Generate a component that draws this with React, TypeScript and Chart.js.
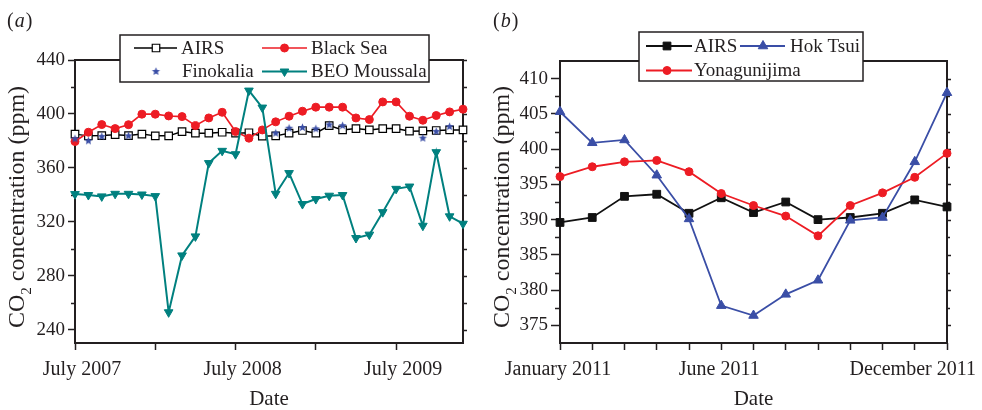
import React, { useEffect, useRef } from 'react';
import { Chart, registerables } from 'chart.js';
import { drawPoint } from 'chart.js/helpers';

Chart.register(...registerables);

const SERIF = '"Liberation Serif", "Times New Roman", Times, serif';
const INK = '#231f20';
const RED = '#ed1c24';
const BLUE = '#3a4ea6';
const TEAL = '#00807f';

// ---------------- Panel (a) ----------------
const monthsA = [
  'Jul 2007', 'Aug 2007', 'Sep 2007', 'Oct 2007', 'Nov 2007', 'Dec 2007',
  'Jan 2008', 'Feb 2008', 'Mar 2008', 'Apr 2008', 'May 2008', 'Jun 2008',
  'Jul 2008', 'Aug 2008', 'Sep 2008', 'Oct 2008', 'Nov 2008', 'Dec 2008',
  'Jan 2009', 'Feb 2009', 'Mar 2009', 'Apr 2009', 'May 2009', 'Jun 2009',
  'Jul 2009', 'Aug 2009', 'Sep 2009', 'Oct 2009', 'Nov 2009', 'Dec 2009',
];
const airsA = [
  385.0, 383.7, 383.9, 384.6, 383.9, 385.0, 383.7, 383.7, 386.9, 385.7,
  385.7, 386.4, 385.7, 386.0, 383.5, 383.7, 385.7, 387.7, 385.7, 391.3,
  388.1, 389.1, 388.1, 389.1, 389.1, 387.2, 387.4, 387.7, 388.1, 388.1,
];
const blackSeaA = [
  379.5, 386.4, 392.1, 389.1, 392.0, 399.8, 399.8, 398.5, 398.0, 391.3,
  397.0, 401.2, 386.9, 382.0, 388.1, 394.1, 398.3, 402.0, 405.0, 405.0,
  405.0, 397.0, 395.8, 408.9, 408.9, 398.3, 395.3, 398.8, 401.5, 403.5,
];
const finokaliaA = [
  381.5, 380.0, 383.2, null, 383.7, null, null, null, null, null,
  null, null, null, null, null, 385.7, 389.4, 389.9, 388.9, 391.9,
  391.3, null, null, null, null, null, 382.0, 386.9, 390.6, null,
];
const moussalaA = [
  340.5, 339.8, 338.8, 340.7, 340.7, 340.2, 339.0, 252.8, 295.0, 309.1,
  363.5, 372.6, 370.1, 417.3, 404.7, 340.7, 356.1, 333.1, 336.8, 339.3,
  339.8, 307.9, 310.4, 327.1, 344.4, 346.1, 317.0, 371.6, 324.0, 318.5,
];
const xTickMonthsA = ['Jul 2007', 'Jan 2008', 'Jul 2008', 'Jan 2009', 'Jul 2009'];
const xTickLabelsA = ['July 2007', '', 'July 2008', '', 'July 2009'];
const yMajorA = [240, 280, 320, 360, 400, 440];
const yMinorA = [260, 300, 340, 380, 420];

// ---------------- Panel (b) ----------------
const monthsB = [
  'Jan 2011', 'Feb 2011', 'Mar 2011', 'Apr 2011', 'May 2011', 'Jun 2011', 'Jul 2011',
  'Aug 2011', 'Sep 2011', 'Oct 2011', 'Nov 2011', 'Dec 2011', 'Jan 2012',
];
const airsB = [389.6, 390.3, 393.3, 393.6, 390.9, 393.1, 391.0, 392.5, 390.0, 390.3, 390.9, 392.8, 391.8];
const hokTsuiB = [405.3, 400.9, 401.3, 396.3, 390.1, 377.8, 376.4, 379.4, 381.4, 389.9, 390.3, 398.2, 408.0];
const yonaguniB = [396.1, 397.5, 398.2, 398.4, 396.8, 393.7, 392.0, 390.5, 387.7, 392.0, 393.8, 396.0, 399.4];
const xTickMonthsB = monthsB.slice();
const xTickLabelsB = ['January 2011', '', '', '', '', 'June 2011', '', '', '', '', '', 'December 2011', ''];
const yMajorB = [375, 380, 385, 390, 395, 400, 405, 410];
const yMinorB = [377.5, 382.5, 387.5, 392.5, 397.5, 402.5, 407.5];

function toXY(values: (number | null)[]) {
  return values
    .map((v, i) => (v == null ? null : { x: i, y: v }))
    .filter((p) => p !== null) as { x: number; y: number }[];
}

function makeStar(color: string, r: number) {
  const size = Math.ceil(r * 2 + 2);
  const c = document.createElement('canvas');
  c.width = size;
  c.height = size;
  const g = c.getContext('2d')!;
  g.fillStyle = color;
  g.beginPath();
  for (let i = 0; i < 10; i++) {
    const ang = -Math.PI / 2 + (i * Math.PI) / 5;
    const rr = i % 2 === 0 ? r : r * 0.45;
    g.lineTo(size / 2 + rr * Math.cos(ang), size / 2 + rr * Math.sin(ang));
  }
  g.closePath();
  g.fill();
  return c;
}

type LegendItem = { ds: number; line?: [number, number]; mx: number; y: number; tx: number };
type DecorOpts = {
  letter: string;
  letterX: number;
  titleX: number;
  titleY: number;
  box: { x: number; y: number; w: number; h: number };
  items: LegendItem[];
  yMajor: number[];
  yMinor: number[];
  leftMinorLen: number;
  rightMajorLen: number;
  rightMinorLen: number;
};

function makeDecor(o: DecorOpts) {
  return {
    id: 'decor',
    beforeDatasetsDraw(chart: any) {
      const { ctx, chartArea: a, scales } = chart;
      const y = scales.y;
      ctx.save();
      ctx.strokeStyle = INK;
      ctx.lineWidth = 2;
      ctx.strokeRect(a.left, a.top, a.right - a.left, a.bottom - a.top);
      ctx.lineWidth = 1.5;
      ctx.beginPath();
      for (const v of o.yMinor) {
        const p = Math.round(y.getPixelForValue(v)) + 0.5;
        ctx.moveTo(a.left - o.leftMinorLen, p);
        ctx.lineTo(a.left, p);
        ctx.moveTo(a.right, p);
        ctx.lineTo(a.right + o.rightMinorLen, p);
      }
      for (const v of o.yMajor) {
        const p = Math.round(y.getPixelForValue(v)) + 0.5;
        ctx.moveTo(a.right, p);
        ctx.lineTo(a.right + o.rightMajorLen, p);
      }
      ctx.stroke();
      ctx.restore();
    },
    afterDraw(chart: any) {
      const { ctx } = chart;
      ctx.save();
      // panel letter
      ctx.fillStyle = INK;
      ctx.textBaseline = 'alphabetic';
      ctx.textAlign = 'left';
      let lx = o.letterX;
      ctx.font = `20px ${SERIF}`;
      ctx.fillText('(', lx, 27);
      lx += ctx.measureText('(').width + 1;
      ctx.font = `italic 20px ${SERIF}`;
      ctx.fillText(o.letter, lx, 27);
      lx += ctx.measureText(o.letter).width + 1;
      ctx.font = `20px ${SERIF}`;
      ctx.fillText(')', lx, 27);

      // y-axis title with subscript
      const main1 = 'CO';
      const sub = '2';
      const main2 = ' concentration (ppm)';
      ctx.font = `24px ${SERIF}`;
      const w1 = ctx.measureText(main1).width;
      const w3 = ctx.measureText(main2).width;
      ctx.font = `15px ${SERIF}`;
      const w2 = ctx.measureText(sub).width;
      const total = w1 + w2 + w3;
      ctx.translate(o.titleX, o.titleY);
      ctx.rotate(-Math.PI / 2);
      let tx = -total / 2;
      ctx.font = `24px ${SERIF}`;
      ctx.fillText(main1, tx, 0);
      tx += w1;
      ctx.font = `15px ${SERIF}`;
      ctx.fillText(sub, tx, 7);
      tx += w2;
      ctx.font = `24px ${SERIF}`;
      ctx.fillText(main2, tx, 0);
      ctx.restore();

      // legend
      ctx.save();
      const b = o.box;
      ctx.fillStyle = '#ffffff';
      ctx.fillRect(b.x, b.y, b.w, b.h);
      ctx.strokeStyle = INK;
      ctx.lineWidth = 1.5;
      ctx.strokeRect(b.x, b.y, b.w, b.h);
      for (const it of o.items) {
        const ds = chart.data.datasets[it.ds];
        if (it.line) {
          ctx.strokeStyle = ds.borderColor;
          ctx.lineWidth = ds.borderWidth;
          ctx.beginPath();
          ctx.moveTo(it.line[0], it.y);
          ctx.lineTo(it.line[1], it.y);
          ctx.stroke();
        }
        ctx.fillStyle = ds.pointBackgroundColor;
        ctx.strokeStyle = ds.pointBorderColor;
        ctx.lineWidth = ds.pointBorderWidth;
        drawPoint(
          ctx,
          {
            pointStyle: ds.pointStyle,
            rotation: ds.pointRotation || 0,
            radius: ds.pointRadius,
            borderWidth: ds.pointBorderWidth,
          } as any,
          it.mx,
          it.y
        );
        ctx.fillStyle = INK;
        ctx.font = `19px ${SERIF}`;
        ctx.textBaseline = 'middle';
        ctx.textAlign = 'left';
        ctx.fillText(ds.label, it.tx, it.y + 1);
      }
      ctx.restore();
    },
  };
}

function xScale(months: string[], tickMonths: string[], tickLabels: string[], height: number, labelOffset: number) {
  return {
    type: 'linear',
    min: 0,
    max: months.length - 1,
    afterBuildTicks: (s: any) => {
      s.ticks = tickMonths.map((m) => ({ value: months.indexOf(m) }));
    },
    afterFit: (s: any) => {
      s.height = height;
    },
    border: { display: false },
    grid: { drawOnChartArea: false, drawTicks: true, tickLength: 7, tickWidth: 1.5, tickColor: INK },
    ticks: {
      autoSkip: false,
      maxRotation: 0,
      minRotation: 0,
      padding: 8,
      labelOffset,
      color: INK,
      font: { family: SERIF, size: 20 },
      callback: (v: number) => {
        const idx = tickMonths.indexOf(months[Math.round(v)]);
        return idx >= 0 ? tickLabels[idx] : '';
      },
    },
    title: {
      display: true,
      text: 'Date',
      color: INK,
      font: { family: SERIF, size: 21 },
      padding: { top: 0, bottom: -2 },
    },
  };
}

function yScale(min: number, max: number, majors: number[], width: number, tickLen: number) {
  return {
    type: 'linear',
    min,
    max,
    afterBuildTicks: (s: any) => {
      s.ticks = majors.map((v) => ({ value: v }));
    },
    afterFit: (s: any) => {
      s.width = width;
    },
    border: { display: false },
    grid: { drawOnChartArea: false, drawTicks: true, tickLength: tickLen, tickWidth: 1.5, tickColor: INK },
    ticks: {
      padding: 3,
      color: INK,
      font: { family: SERIF, size: 19 },
      callback: (v: number) => String(v),
    },
  };
}

function configA() {
  const star = makeStar(BLUE, 4.3);
  return {
    type: 'line',
    data: {
      datasets: [
        {
          label: 'AIRS',
          data: toXY(airsA),
          borderColor: '#000000',
          borderWidth: 1.5,
          pointStyle: 'rect',
          pointRadius: 5.3,
          pointBackgroundColor: '#ffffff',
          pointBorderColor: '#000000',
          pointBorderWidth: 1.2,
          order: 4,
          clip: false,
        },
        {
          label: 'Black Sea',
          data: toXY(blackSeaA),
          borderColor: RED,
          borderWidth: 1.6,
          pointStyle: 'circle',
          pointRadius: 4,
          pointBackgroundColor: RED,
          pointBorderColor: RED,
          pointBorderWidth: 1,
          order: 3,
          clip: false,
        },
        {
          label: 'Finokalia',
          data: toXY(finokaliaA),
          showLine: false,
          borderColor: BLUE,
          borderWidth: 0,
          pointStyle: star,
          pointRadius: 4.3,
          pointBackgroundColor: BLUE,
          pointBorderColor: BLUE,
          pointBorderWidth: 0,
          order: 2,
          clip: false,
        },
        {
          label: 'BEO Moussala',
          data: toXY(moussalaA),
          borderColor: TEAL,
          borderWidth: 2,
          pointStyle: 'triangle',
          pointRotation: 180,
          pointRadius: 5,
          pointBackgroundColor: TEAL,
          pointBorderColor: TEAL,
          pointBorderWidth: 1,
          order: 1,
          clip: false,
        },
      ],
    },
    options: {
      responsive: false,
      animation: false,
      events: [],
      layout: { padding: { top: 60, right: 28, left: 0, bottom: 0 } },
      elements: { line: { tension: 0 } },
      plugins: { legend: { display: false }, tooltip: { enabled: false } },
      scales: {
        x: xScale(monthsA, xTickMonthsA, xTickLabelsA, 67, 7),
        y: yScale(230, 440, yMajorA, 75, 7),
      },
    },
    plugins: [
      makeDecor({
        letter: 'a',
        letterX: 7,
        titleX: 23.5,
        titleY: 207,
        box: { x: 120, y: 35, w: 309, h: 47 },
        items: [
          { ds: 0, line: [134, 177], mx: 156, y: 48, tx: 181 },
          { ds: 1, line: [262, 307], mx: 284.5, y: 48, tx: 311 },
          { ds: 2, mx: 156, y: 71.5, tx: 182 },
          { ds: 3, line: [262, 307], mx: 284.5, y: 71.5, tx: 311 },
        ],
        yMajor: yMajorA,
        yMinor: yMinorA,
        leftMinorLen: 4,
        rightMajorLen: 4,
        rightMinorLen: 4,
      }),
    ],
  };
}

function configB() {
  return {
    type: 'line',
    data: {
      datasets: [
        {
          label: 'AIRS',
          data: toXY(airsB),
          borderColor: '#111111',
          borderWidth: 1.8,
          pointStyle: 'rect',
          pointRadius: 5.5,
          pointBackgroundColor: '#111111',
          pointBorderColor: '#111111',
          pointBorderWidth: 1,
          order: 3,
          clip: false,
        },
        {
          label: 'Hok Tsui',
          data: toXY(hokTsuiB),
          borderColor: BLUE,
          borderWidth: 1.8,
          pointStyle: 'triangle',
          pointRadius: 5.5,
          pointBackgroundColor: BLUE,
          pointBorderColor: BLUE,
          pointBorderWidth: 1,
          order: 2,
          clip: false,
        },
        {
          label: 'Yonagunijima',
          data: toXY(yonaguniB),
          borderColor: RED,
          borderWidth: 1.8,
          pointStyle: 'circle',
          pointRadius: 4,
          pointBackgroundColor: RED,
          pointBorderColor: RED,
          pointBorderWidth: 1,
          order: 1,
          clip: false,
        },
      ],
    },
    options: {
      responsive: false,
      animation: false,
      events: [],
      layout: { padding: { top: 61, right: 35, left: 0, bottom: 0 } },
      elements: { line: { tension: 0 } },
      plugins: { legend: { display: false }, tooltip: { enabled: false } },
      scales: {
        x: xScale(monthsB, xTickMonthsB, xTickLabelsB, 67, -2),
        y: yScale(372.5, 412.5, yMajorB, 69, 9),
      },
    },
    plugins: [
      makeDecor({
        letter: 'b',
        letterX: 2,
        titleX: 17.5,
        titleY: 207,
        box: { x: 148, y: 32, w: 224, h: 49 },
        items: [
          { ds: 0, line: [155, 201], mx: 176, y: 46, tx: 203 },
          { ds: 1, line: [249, 294], mx: 272, y: 46, tx: 299 },
          { ds: 2, line: [155, 201], mx: 176, y: 70.5, tx: 203 },
        ],
        yMajor: yMajorB,
        yMinor: yMinorB,
        leftMinorLen: 5,
        rightMajorLen: 4,
        rightMinorLen: 3,
      }),
    ],
  };
}

function Panel({ make, left }: { make: () => any; left: number }) {
  const ref = useRef<HTMLCanvasElement>(null);
  useEffect(() => {
    const chart = new Chart(ref.current as HTMLCanvasElement, make());
    return () => chart.destroy();
  }, [make]);
  return (
    <canvas
      ref={ref}
      width={491}
      height={410}
      style={{ position: 'absolute', left, top: 0, width: 491, height: 410 }}
    />
  );
}

export default function App() {
  return (
    <div
      style={{
        position: 'fixed',
        left: 0,
        top: 0,
        width: 982,
        height: 410,
        background: '#ffffff',
        overflow: 'hidden',
      }}
    >
      <Panel make={configA} left={0} />
      <Panel make={configB} left={491} />
    </div>
  );
}
